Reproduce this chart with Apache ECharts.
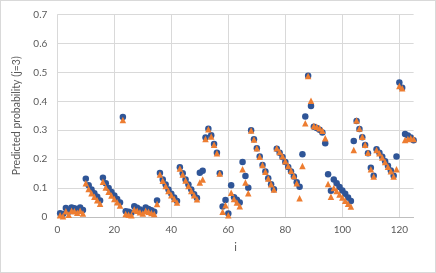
<!DOCTYPE html>
<html>
<head>
<meta charset="utf-8">
<script src="https://cdn.jsdelivr.net/npm/echarts@6/dist/echarts.min.js"></script>
<style>
html,body{margin:0;padding:0;background:#fff;}
#c{width:436px;height:273px;box-sizing:border-box;border:1px solid #d9d9d9;}
</style>
</head>
<body>
<div id="c"></div>
<script>
var iValues = [];
for (var k = 1; k <= 125; k++) iValues.push(k);

var seriesBlue = [
0.013,0.010,0.031,0.018,0.033,0.030,0.025,0.033,0.024,0.132,
0.110,0.095,0.082,0.070,0.057,0.136,0.117,0.100,0.086,0.074,
0.062,0.050,0.346,0.020,0.018,0.015,0.037,0.032,0.026,0.021,
0.033,0.028,0.023,0.018,0.057,0.152,0.130,0.112,0.095,0.080,
0.067,0.055,0.172,0.151,0.130,0.112,0.095,0.079,0.066,0.153,
0.160,0.275,0.305,0.283,0.252,0.222,0.151,0.036,0.059,0.012,
0.110,0.068,0.060,0.050,0.190,0.142,0.101,0.300,0.269,0.238,
0.209,0.180,0.157,0.134,0.113,0.096,0.236,0.222,0.207,0.190,
0.173,0.157,0.140,0.120,0.105,0.217,0.347,0.488,0.384,0.312,
0.308,0.302,0.292,0.255,0.148,0.091,0.130,0.117,0.104,0.092,
0.080,0.067,0.055,0.263,0.332,0.304,0.276,0.249,0.220,0.170,
0.143,0.234,0.222,0.208,0.193,0.177,0.161,0.143,0.209,0.465,
0.447,0.287,0.282,0.275,0.265
];
var seriesOrange = [
0.006,0.003,0.020,0.008,0.022,0.020,0.015,0.022,0.012,0.117,
0.097,0.082,0.070,0.058,0.046,0.122,0.102,0.087,0.074,0.062,
0.051,0.040,0.335,0.010,0.008,0.006,0.026,0.022,0.016,0.012,
0.022,0.018,0.014,0.010,0.045,0.147,0.125,0.107,0.090,0.075,
0.062,0.050,0.168,0.147,0.126,0.107,0.090,0.075,0.061,0.119,
0.130,0.270,0.303,0.278,0.250,0.220,0.150,0.018,0.041,0.006,
0.084,0.062,0.050,0.037,0.165,0.119,0.082,0.299,0.268,0.238,
0.208,0.180,0.156,0.133,0.113,0.095,0.238,0.225,0.210,0.193,
0.176,0.160,0.142,0.117,0.065,0.176,0.324,0.487,0.402,0.315,
0.312,0.307,0.298,0.272,0.114,0.070,0.100,0.090,0.078,0.067,
0.056,0.046,0.036,0.232,0.334,0.306,0.277,0.250,0.222,0.165,
0.140,0.232,0.220,0.206,0.190,0.174,0.158,0.140,0.165,0.453,
0.445,0.266,0.270,0.272,0.270
];

var xTicks = [0,20,40,60,80,100,120];
var yTicks = [0,0.1,0.2,0.3,0.4,0.5,0.6,0.7];

function pairs(xs, ys){ return xs.map(function(x,i){ return [x, ys[i]]; }); }

var font = 'Lato, "Open Sans", sans-serif';
var chart = echarts.init(document.getElementById('c'), null, {renderer:'canvas'});
chart.setOption({
  animation:false,
  grid:{left:56.3, right:21.4, top:13.5, bottom:55, containLabel:false},
  xAxis:{
    type:'value', min:xTicks[0], max:125, interval:20,
    name:'i', nameLocation:'middle', nameGap:25,
    nameTextStyle:{color:'#595959', fontSize:11, fontFamily:font},
    axisLine:{show:true, lineStyle:{color:'#bfbfbf', width:1}},
    axisTick:{show:false},
    axisLabel:{color:'#595959', fontSize:10, fontFamily:font, margin:8, showMaxLabel:false,
      formatter:function(v){ return xTicks.indexOf(v) >= 0 ? String(v) : ''; }},
    splitLine:{show:true, showMaxLine:false, lineStyle:{color:'#d9d9d9', width:1}}
  },
  yAxis:{
    type:'value', min:yTicks[0], max:yTicks[yTicks.length-1], interval:0.1,
    name:'Predicted probability (j=3)', nameLocation:'middle', nameGap:24, nameRotate:90,
    nameTextStyle:{color:'#595959', fontSize:10.5, fontFamily:font},
    axisLine:{show:false}, axisTick:{show:false},
    axisLabel:{color:'#595959', fontSize:10, fontFamily:font, margin:10,
      formatter:function(v){ return v === 0 ? '0' : v.toFixed(1); }},
    splitLine:{show:true, lineStyle:{color:'#d9d9d9', width:1}}
  },
  series:[
    {type:'scatter', name:'blue', data:pairs(iValues, seriesBlue), symbol:'circle', symbolSize:6.5,
     itemStyle:{color:'#2F5597', opacity:1}},
    {type:'scatter', name:'orange', data:pairs(iValues, seriesOrange), symbol:'triangle', symbolSize:6.5,
     itemStyle:{color:'#ED7D31', opacity:1}}
  ]
});
</script>
</body>
</html>
